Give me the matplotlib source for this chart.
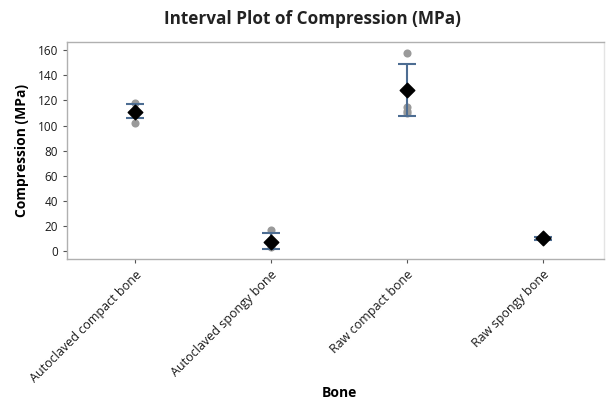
"""
Interval plot of compression strength by bone type
"""
import numpy as np
import matplotlib
matplotlib.use('Agg')
import matplotlib.pyplot as plt

bones = ["Autoclaved compact bone", "Autoclaved spongy bone",
         "Raw compact bone", "Raw spongy bone"]

obs = [[118, 110, 102],
       [17, 6, 3],
       [158, 115, 112, 110],
       [11, 10, 9]]

means = [111, 7.5, 128, 10]
ci_low = [106, 1.5, 108, 9]
ci_high = [117, 14, 149, 11]

plt.rcParams['font.family'] = ['Open Sans', 'DejaVu Sans']

fig = plt.figure(figsize=(6.07, 4.05), dpi=100)
ax = fig.add_axes([0.1104, 0.3605, 0.8846, 0.536])

x = np.arange(len(bones))

for i, vals in enumerate(obs):
    ax.scatter([x[i]] * len(vals), vals, s=34, color='#9a9a9a', zorder=2,
               linewidths=0)

yerr = [np.array(means) - np.array(ci_low), np.array(ci_high) - np.array(means)]
ax.errorbar(x, means, yerr=yerr, fmt='none', ecolor='#4d6d92', elinewidth=1.5,
            capsize=6.8, capthick=1.5, zorder=3)
ax.scatter(x, means, marker='D', s=55, color='black', zorder=4)

ax.set_xlim(-0.5, 3.45)
ax.set_ylim(-6.4, 166.7)
ax.set_yticks(np.arange(0, 161, 20))
ax.set_xticks(x)
ax.set_xticklabels(bones, rotation=45, ha='right', rotation_mode='anchor',
                   fontsize=9)
ax.tick_params(axis='y', labelsize=8.5, colors='#555555', length=3)
ax.tick_params(axis='x', colors='#555555', length=3)
for tl in ax.get_xticklabels() + ax.get_yticklabels():
    tl.set_color('#1a1a1a')

for sp in ax.spines.values():
    sp.set_color('#b0b0b0')
    sp.set_linewidth(1.0)
ax.spines['right'].set_color('#e4e4e4')

ax.set_ylabel('Compression (MPa)', fontsize=10, fontweight='bold', labelpad=6)
ax.set_xlabel('Bone', fontsize=10, fontweight='bold')
ax.xaxis.label.set_va('center')
ax.xaxis.set_label_coords(0.508, -0.617)
fig.text(0.514, 0.953, 'Interval Plot of Compression (MPa)', fontsize=12.3,
         fontweight='bold', ha='center', va='center', color='#222222')

fig.savefig('out.png', dpi=100)
